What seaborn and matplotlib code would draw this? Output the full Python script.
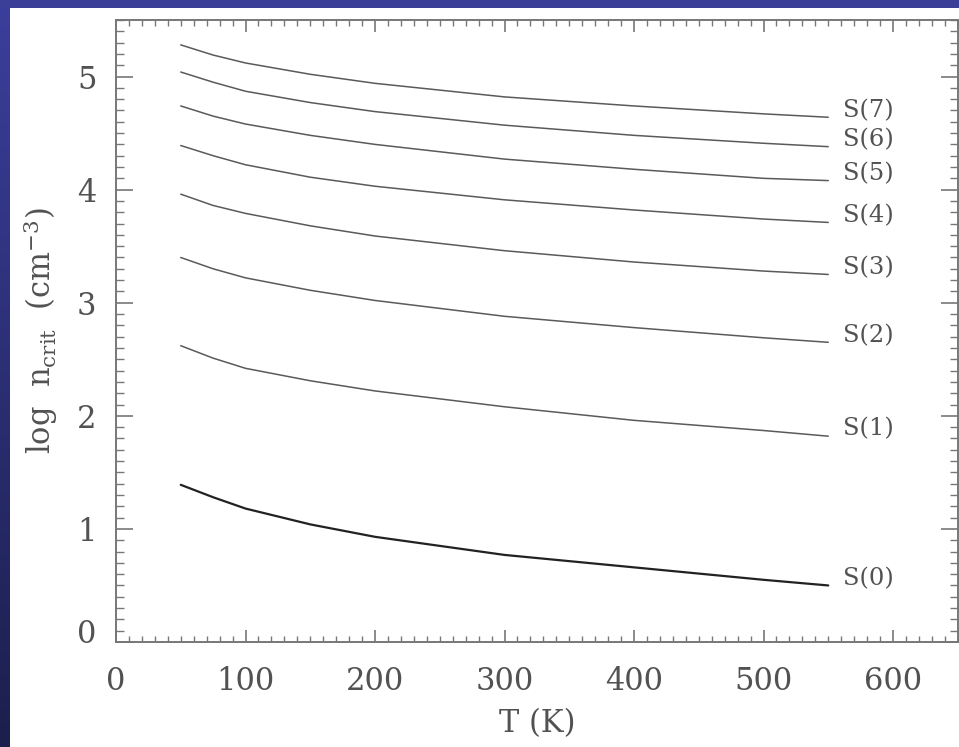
import numpy as np
import pandas as pd
import matplotlib
matplotlib.use("Agg")
import matplotlib.pyplot as plt
from matplotlib.patches import Rectangle
from matplotlib.transforms import ScaledTranslation
from matplotlib.colors import LinearSegmentedColormap
import seaborn as sns

# ---- data ----
temperature = [50, 75, 100, 150, 200, 300, 400, 500, 550]
s7 = [5.28, 5.19, 5.12, 5.02, 4.94, 4.82, 4.74, 4.67, 4.64]
s6 = [5.04, 4.95, 4.87, 4.77, 4.69, 4.57, 4.48, 4.41, 4.38]
s5 = [4.74, 4.65, 4.58, 4.48, 4.40, 4.27, 4.18, 4.10, 4.08]
s4 = [4.39, 4.30, 4.22, 4.11, 4.03, 3.91, 3.82, 3.74, 3.71]
s3 = [3.96, 3.86, 3.79, 3.68, 3.59, 3.46, 3.36, 3.28, 3.25]
s2 = [3.40, 3.30, 3.22, 3.11, 3.02, 2.88, 2.78, 2.69, 2.65]
s1 = [2.62, 2.51, 2.42, 2.31, 2.22, 2.08, 1.96, 1.87, 1.82]
s0 = [1.39, 1.28, 1.18, 1.04, 0.93, 0.77, 0.66, 0.55, 0.50]
line_labels = ["S(0)", "S(1)", "S(2)", "S(3)", "S(4)", "S(5)", "S(6)", "S(7)"]
series = [s0, s1, s2, s3, s4, s5, s6, s7]
x_ticks = [0, 100, 200, 300, 400, 500, 600]
y_ticks = [0, 1, 2, 3, 4, 5]

df = pd.concat([pd.DataFrame({"T": temperature, "logn": vals, "line": lab})
                for lab, vals in zip(line_labels, series)], ignore_index=True)

sns.set_style("ticks")
plt.rcParams["font.family"] = ["DejaVu Serif"]
plt.rcParams["mathtext.fontset"] = "dejavuserif"

W, H = 959, 747
fig = plt.figure(figsize=(W / 100, H / 100), dpi=100, facecolor="white")

# slide background strips (blue)
grad_ax = fig.add_axes([0, 0, 10 / W, 1])
grad = np.linspace(0, 1, 256).reshape(-1, 1)
cmap = LinearSegmentedColormap.from_list("slide", ["#1c1f4c", "#3b3f9c"])
grad_ax.imshow(grad, aspect="auto", cmap=cmap, origin="lower", extent=[0, 1, 0, 1])
grad_ax.set_axis_off()
fig.patches.append(Rectangle((0, 1 - 8 / H), 1, 8 / H, transform=fig.transFigure,
                             facecolor="#3b3f98", edgecolor="none", zorder=0))

ax = fig.add_axes([116 / W, (H - 642) / H, 841.75 / W, 622 / H])
ax.set_facecolor("white")

text_c = "#525252"
line_color = "#5a5a5a"
for lab in line_labels:
    sub = df[df["line"] == lab]
    if lab == "S(0)":
        sns.lineplot(data=sub, x="T", y="logn", ax=ax, color="#222222", lw=1.6,
                     legend=False, sort=False)
    else:
        sns.lineplot(data=sub, x="T", y="logn", ax=ax, color=line_color, lw=1.1,
                     legend=False, sort=False)
    ax.annotate(lab, xy=(sub["T"].iloc[-1], sub["logn"].iloc[-1]),
                xytext=(15, 7), textcoords="offset pixels", va="center", ha="left",
                fontsize=17.5, color=text_c)

ax.set_xlim(0, 650)
ax.set_ylim(0, 5.5)
ax.set_xticks(x_ticks)
ax.set_yticks(y_ticks)
ax.set_xticks(np.arange(0, 651, 10), minor=True)
ax.set_yticks(np.arange(0, 5.51, 0.1), minor=True)
ax.set_xticklabels([str(v) for v in x_ticks])
ax.set_yticklabels([str(v) for v in y_ticks])

spine_c = "#777777"
for sp in ax.spines.values():
    sp.set_visible(True)
    sp.set_color(spine_c)
    sp.set_linewidth(1.4)
ax.tick_params(axis="both", which="both", direction="in", top=True, right=True,
               color=spine_c, labelcolor=text_c, labelsize=22)
ax.tick_params(axis="x", which="major", length=8.6, width=1.2, pad=17)
ax.tick_params(axis="x", which="minor", length=4.3, width=1.0)
ax.tick_params(axis="y", which="major", length=12, width=1.2, pad=14)
ax.tick_params(axis="y", which="minor", length=6, width=1.0)

# IDL lifts the y "0" label above the corner
lbl0 = ax.yaxis.get_major_ticks()[0].label1
lbl0.set_transform(lbl0.get_transform() + ScaledTranslation(0, 11 / 100, fig.dpi_scale_trans))

ax.set_xlabel("T (K)", fontsize=22, color=text_c, labelpad=8)
ax.set_ylabel(r"log  n$_{\mathrm{crit}}$  (cm$^{-3}$)", fontsize=22, color=text_c, labelpad=12)

fig.savefig("out.png", dpi=100, facecolor="white")
